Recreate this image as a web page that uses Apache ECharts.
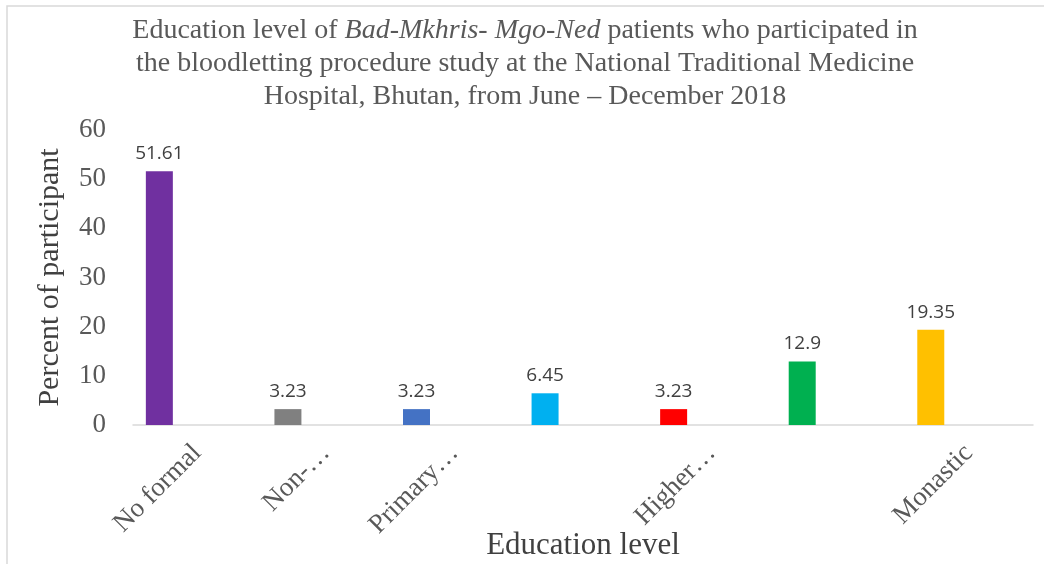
<!DOCTYPE html>
<html>
<head>
<meta charset="utf-8">
<script src="https://cdn.jsdelivr.net/npm/echarts@6/dist/echarts.min.js"></script>
<style>
  html, body { margin: 0; padding: 0; background: #fff; }
  #chart { width: 1044px; height: 564px; }
</style>
</head>
<body>
<div id="chart"></div>
<script>
// education levels (Excel truncated some labels, two are hidden)
var categories = ["No formal", "Non-\u2026", "Primary\u2026", "", "Higher\u2026", "", "Monastic"];
var percents = [51.61, 3.23, 3.23, 6.45, 3.23, 12.9, 19.35];
var barColors = ["#7030A0", "#808080", "#4472C4", "#00B0F0", "#FF0000", "#00B050", "#FFC000"];
var yTicks = { min: 0, max: 60, interval: 10 };

var serif = "'Liberation Serif', 'DejaVu Serif', serif";

var chart = echarts.init(document.getElementById("chart"));

var option = {
  backgroundColor: "#fff",
  animation: false,
  title: {
    text: "Education level of {i|Bad-Mkhris- Mgo-Ned} patients who participated in\n" +
      "the bloodletting procedure study at the National Traditional Medicine\n" +
      "Hospital, Bhutan, from June \u2013 December 2018",
    left: 520,
    top: 9,
    textAlign: "center",
    textStyle: {
      fontFamily: serif,
      fontSize: 28,
      fontWeight: "normal",
      color: "#595959",
      lineHeight: 33,
      rich: {
        i: {
          fontFamily: serif,
          fontSize: 28,
          fontStyle: "italic",
          color: "#595959",
          lineHeight: 33
        }
      }
    }
  },
  graphic: [{
    type: "rect",
    shape: { x: 7, y: 6, width: 1100, height: 600 },
    style: { fill: "none", stroke: "#D9D9D9", lineWidth: 1.5 },
    silent: true
  }],
  grid: {
    left: 133,
    right: 11,
    top: 130,
    bottom: 139,
    containLabel: false,
    outerBoundsMode: "none"
  },
  xAxis: {
    type: "category",
    data: categories,
    name: "Education level",
    nameLocation: "middle",
    nameGap: 105,
    nameMoveOverlap: false,
    nameTextStyle: {
      fontFamily: serif,
      fontSize: 31,
      color: "#404040"
    },
    axisLine: { lineStyle: { color: "#D9D9D9", width: 1.5 } },
    axisTick: { show: false },
    axisLabel: {
      interval: 0,
      rotate: 45,
      margin: 24,
      fontFamily: serif,
      fontSize: 27,
      color: "#595959"
    }
  },
  yAxis: {
    type: "value",
    min: yTicks.min,
    max: yTicks.max,
    interval: yTicks.interval,
    name: "Percent of participant",
    nameLocation: "middle",
    nameGap: 68,
    nameTextStyle: {
      fontFamily: serif,
      fontSize: 30,
      color: "#404040"
    },
    axisLine: { show: false },
    axisTick: { show: false },
    splitLine: { show: false },
    axisLabel: {
      margin: 27,
      fontFamily: serif,
      fontSize: 27,
      color: "#595959"
    }
  },
  series: [
    {
      type: "bar",
      barWidth: 27,
      barGap: "181%",
      data: percents.map(function (v, i) {
        return { value: v, itemStyle: { color: barColors[i] } };
      }),
      label: {
        show: true,
        position: "top",
        distance: 8,
        fontFamily: "'Open Sans', 'Liberation Sans', sans-serif",
        fontSize: 19,
        color: "#404040"
      }
    },
    {
      // empty companion series: keeps bars left of the category centre like the Excel original
      type: "bar",
      barWidth: 27,
      data: []
    }
  ]
};

chart.setOption(option);
</script>
</body>
</html>
